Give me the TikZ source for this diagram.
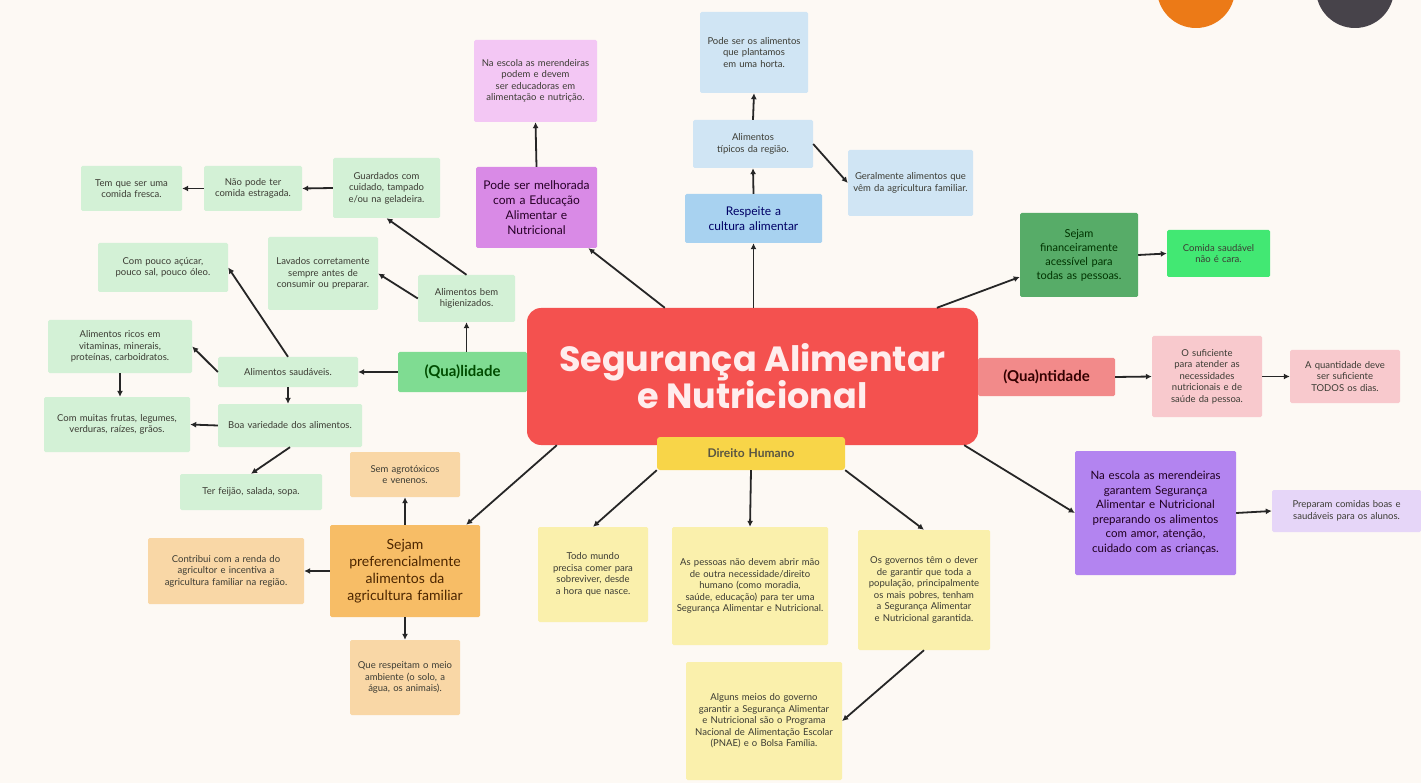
\documentclass[tikz,border=0pt]{standalone}
\usepackage{fontspec}
\setmainfont{Lato}
\newfontfamily\titlefont{Poppins}
\usetikzlibrary{arrows.meta}

\definecolor{bgcream}{HTML}{FDF9F4}
\definecolor{mainred}{HTML}{F4514F}
\definecolor{dhyellow}{HTML}{F8D548}
\definecolor{qualgreen}{HTML}{7FDC92}
\definecolor{leafgreen}{HTML}{D3F1D6}
\definecolor{quantpink}{HTML}{F28A8A}
\definecolor{leafpink}{HTML}{F8C9CD}
\definecolor{edumagenta}{HTML}{D98AE6}
\definecolor{leafmagenta}{HTML}{F3C7F4}
\definecolor{cultblue}{HTML}{A8D2F0}
\definecolor{leafblue}{HTML}{D0E5F4}
\definecolor{fingreen}{HTML}{57AC68}
\definecolor{brightgreen}{HTML}{42E873}
\definecolor{escpurple}{HTML}{B384F0}
\definecolor{leafpurple}{HTML}{E6D6F8}
\definecolor{agrorange}{HTML}{F7BD66}
\definecolor{leaforange}{HTML}{F9D7A6}
\definecolor{leafyellow}{HTML}{FAF0AC}
\definecolor{circorange}{HTML}{EC7A17}
\definecolor{circgray}{HTML}{47434A}
\definecolor{textgray}{HTML}{3C3C34}

\hyphenpenalty=10000
\exhyphenpenalty=10000

\tikzset{
  leaf/.style={rectangle, rounded corners=1.5pt, inner xsep=4pt, inner ysep=3pt,
    align=center, text=textgray, font=\fontsize{9.5}{11.5}\selectfont},
  branch/.style={rectangle, rounded corners=1.5pt, inner xsep=4pt, inner ysep=3pt,
    align=center, font=\fontsize{12}{15}\selectfont},
  wh/.style 2 args={text width=#1, minimum height=#2},
  arr/.style={line width=1.8pt, draw=black!85, -{Latex[length=6pt,width=6pt]}}
}

\begin{document}
\begin{tikzpicture}[x=1pt, y=-1pt]
\fill[bgcream] (0,0) rectangle (1421,783);
\useasboundingbox (0,0) rectangle (1421,783);
\fill[circorange] (1196,-11) circle (39);
\fill[circgray] (1355,-11) circle (39);
%
% centre
\node[rectangle, rounded corners=14pt, fill=mainred, text=white!93!red,
  minimum width=451pt, minimum height=137pt, align=center,
  font=\titlefont\bfseries\fontsize{35}{40}\selectfont] (main) at (752.5,376.5)
  {Segurança Alimentar\\[-3pt] e Nutricional};
\node[branch, rounded corners=3pt, fill=dhyellow, text=black!75!yellow,
  wh={180pt}{33pt}, font=\bfseries\fontsize{12}{14}\selectfont] (dh) at (751,453.5) {Direito Humano};
\node[branch, fill=qualgreen, text=black!70!green, wh={121pt}{40pt},
  font=\bfseries\fontsize{15}{17}\selectfont] (qual) at (462.5,372) {(Qua)lidade};
\node[branch, fill=quantpink, text=black!80!red, wh={129pt}{38pt},
  font=\bfseries\fontsize{15}{17}\selectfont] (quant) at (1046.5,377) {(Qua)ntidade};
%
% educacao
\node[branch, fill=edumagenta, text=black!70!violet, wh={113pt}{81pt}] (pode) at (536.5,207.5)
  {Pode ser melhorada com a Educação Alimentar e Nutricional};
\node[leaf, fill=leafmagenta, wh={115pt}{82pt}] (naesc) at (535.5,81)
  {Na escola as merendeiras podem e devem ser educadoras em alimentação e nutrição.};
%
% cultura
\node[branch, fill=cultblue, text=black!60!blue, wh={129pt}{49pt}] (cult) at (753.5,218.5)
  {Respeite a cultura alimentar};
\node[leaf, fill=leafblue, wh={112pt}{48pt}] (tipicos) at (753,144) {Alimentos típicos da região.};
\node[leaf, fill=leafblue, wh={100pt}{81pt}] (horta) at (754,52.5)
  {Pode ser os alimentos que plantamos em uma horta.};
\node[leaf, fill=leafblue, wh={117pt}{66pt}] (geral) at (910.5,183)
  {Geralmente alimentos que vêm da agricultura familiar.};
%
% acessivel
\node[branch, fill=fingreen, text=black!80!green, wh={110pt}{84pt},
  font=\fontsize{11}{14}\selectfont] (fin) at (1079,255)
  {Sejam financeiramente acessível para todas as pessoas.};
\node[leaf, fill=brightgreen, wh={95pt}{47pt}] (comida) at (1218.5,253.5)
  {Comida saudável não é cara.};
%
% quantidade
\node[leaf, fill=leafpink, wh={102pt}{81pt}] (sufic) at (1207,376.5)
  {O suficiente para atender as necessidades nutricionais e de saúde da pessoa.};
\node[leaf, fill=leafpink, wh={102pt}{53pt}] (todos) at (1345,376.5)
  {A quantidade deve ser suficiente TODOS os dias.};
%
% merendeiras
\node[branch, fill=escpurple, text=black!75!violet, wh={153pt}{124pt},
  font=\fontsize{11.5}{14.5}\selectfont] (purp) at (1155.5,513)
  {Na escola as merendeiras garantem Segurança Alimentar e Nutricional preparando os alimentos com amor, atenção, cuidado com as crianças.};
\node[leaf, fill=leafpurple, wh={141pt}{42pt}] (prep) at (1346.5,511)
  {Preparam comidas boas e saudáveis para os alunos.};
%
% direito humano
\node[leaf, fill=leafyellow, wh={102pt}{95pt}] (todo) at (593,574.5)
  {Todo mundo precisa comer para sobreviver, desde a hora que nasce.};
\node[leaf, fill=leafyellow, wh={148pt}{118pt}] (asp) at (750,586)
  {As pessoas não devem abrir mão de outra necessidade/direito humano (como moradia, saúde, educação) para ter uma Segurança Alimentar e Nutricional.};
\node[leaf, fill=leafyellow, wh={124pt}{120pt}] (gov) at (924,590)
  {Os governos têm o dever de garantir que toda a população, principalmente os mais pobres, tenham a Segurança Alimentar e Nutricional garantida.};
\node[leaf, fill=leafyellow, wh={148pt}{118pt}] (alg) at (764,721)
  {Alguns meios do governo garantir a Segurança Alimentar e Nutricional são o Programa Nacional de Alimentação Escolar (PNAE) e o Bolsa Família.};
%
% agricultura familiar
\node[branch, fill=agrorange, text=black!70!orange, wh={142pt}{92pt},
  font=\fontsize{14}{17}\selectfont] (agri) at (405,571)
  {Sejam preferencialmente alimentos da agricultura familiar};
\node[leaf, fill=leaforange, wh={102pt}{45pt}] (semag) at (405,474.5) {Sem agrotóxicos e venenos.};
\node[leaf, fill=leaforange, wh={148pt}{66pt}] (contrib) at (226,571)
  {Contribui com a renda do agricultor e incentiva a agricultura familiar na região.};
\node[leaf, fill=leaforange, wh={102pt}{75pt}] (meio) at (405,677.5)
  {Que respeitam o meio ambiente (o solo, a água, os animais).};
%
% qualidade
\node[leaf, fill=leafgreen, wh={89pt}{47pt}] (hig) at (466.5,298.5) {Alimentos bem higienizados.};
\node[leaf, fill=leafgreen, wh={102pt}{73pt}] (lav) at (323,273.5)
  {Lavados corretamente sempre antes de consumir ou preparar.};
\node[leaf, fill=leafgreen, wh={99pt}{60pt}] (guard) at (386.5,188)
  {Guardados com cuidado, tampado e/ou na geladeira.};
\node[leaf, fill=leafgreen, wh={90pt}{45pt}] (naopode) at (253,188.5) {Não pode ter comida estragada.};
\node[leaf, fill=leafgreen, wh={93pt}{45pt}] (fresca) at (131.5,188.5) {Tem que ser uma comida fresca.};
\node[leaf, fill=leafgreen, wh={132pt}{30pt}] (saud) at (288,372) {Alimentos saudáveis.};
\node[leaf, fill=leafgreen, wh={122pt}{49pt}] (pouco) at (163,267.5) {Com pouco açúcar, pouco sal, pouco óleo.};
\node[leaf, fill=leafgreen, wh={136pt}{53pt}] (ricos) at (120,346.5)
  {Alimentos ricos em vitaminas, minerais, proteínas, carboidratos.};
\node[leaf, fill=leafgreen, wh={138pt}{55pt}] (muitas) at (117,424.5)
  {Com muitas frutas, legumes, verduras, raízes, grãos.};
\node[leaf, fill=leafgreen, wh={136pt}{43pt}] (boa) at (290,425.5) {Boa variedade dos alimentos.};
\node[leaf, fill=leafgreen, wh={134pt}{36pt}] (feijao) at (251,492) {Ter feijão, salada, sopa.};
%
% connectors
\draw[arr] (main) -- (pode);
\draw[arr] (pode.north) -- (naesc.south);
\draw[arr] (main.north -| cult) -- (cult.south);
\draw[arr] (cult.north) -- (tipicos.south);
\draw[arr] (tipicos.north) -- (horta.south);
\draw[arr] (tipicos.east) -- (geral.west);
\draw[arr] (main) -- (fin);
\draw[arr] (fin.east) -- (comida.west);
\draw[arr] (quant.east) -- (sufic.west);
\draw[arr] (sufic.east) -- (todos.west);
\draw[arr] ([xshift=-14pt]main.south east) -- (purp.west);
\draw[arr] (purp.east) -- (prep.west);
\draw[arr] (dh.south west) -- (todo.north);
\draw[arr] (dh.south) -- (asp.north);
\draw[arr] (dh.south east) -- (gov.north);
\draw[arr] (gov.south) -- (alg.east);
\draw[arr] ([xshift=30pt]main.south west) -- ([xshift=-14pt]agri.north east);
\draw[arr] (agri.north) -- (semag.south);
\draw[arr] (agri.west) -- (contrib.east);
\draw[arr] (agri.south) -- (meio.north);
\draw[arr] (qual.north -| hig) -- (hig.south);
\draw[arr] (hig.west) -- (lav.east);
\draw[arr] (hig.north) -- (guard.south);
\draw[arr] (guard.west) -- (naopode.east);
\draw[arr] (naopode.west) -- (fresca.east);
\draw[arr] (qual.west) -- (saud.east);
\draw[arr] (saud.north) -- (pouco.east);
\draw[arr] (saud.west) -- (ricos.east);
\draw[arr] (ricos.south) -- (ricos.south |- muitas.north);
\draw[arr] (saud.south) -- (saud.south |- boa.north);
\draw[arr] (boa.west) -- (muitas.east);
\draw[arr] (boa.south) -- (feijao.north);
\end{tikzpicture}
\end{document}
